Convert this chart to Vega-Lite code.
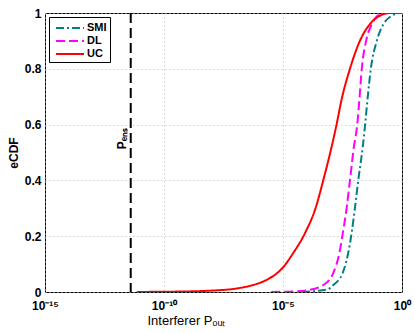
{
  "$schema": "https://vega.github.io/schema/vega-lite/v6.json",
  "width": 357,
  "height": 279,
  "autosize": "none",
  "padding": {"left": 45, "top": 13, "right": 13, "bottom": 41},
  "background": "white",
  "config": {
    "view": {"stroke": "black", "strokeWidth": 1},
    "font": "Liberation Sans",
    "axis": {
      "labelFont": "Liberation Sans",
      "labelFontWeight": "bold",
      "labelFontSize": 12,
      "labelColor": "black",
      "titleColor": "black",
      "domain": false,
      "ticks": false,
      "gridColor": "#b8b8b8",
      "gridDash": [1, 3],
      "gridWidth": 1
    },
    "legend": {
      "orient": "top-left",
      "offset": 4,
      "padding": 3,
      "fillColor": "white",
      "strokeColor": "black",
      "labelFont": "Liberation Sans",
      "labelFontWeight": "bold",
      "labelFontSize": 11,
      "labelColor": "black",
      "labelOffset": 19,
      "symbolType": "M-0.57,0H3.43",
      "symbolStrokeWidth": 2,
      "symbolSize": 196,
      "rowPadding": 0
    }
  },
  "datasets": {
    "curves": [
      {"series": "SMI", "x": 6.3e-5, "y": 0},
      {"series": "SMI", "x": 2.0e-4, "y": 0.003},
      {"series": "SMI", "x": 7.9e-4, "y": 0.01},
      {"series": "SMI", "x": 1.3e-3, "y": 0.025},
      {"series": "SMI", "x": 3.2e-3, "y": 0.068},
      {"series": "SMI", "x": 5.5e-3, "y": 0.14},
      {"series": "SMI", "x": 7.6e-3, "y": 0.21},
      {"series": "SMI", "x": 0.0107, "y": 0.306},
      {"series": "SMI", "x": 0.0145, "y": 0.40},
      {"series": "SMI", "x": 0.0224, "y": 0.52},
      {"series": "SMI", "x": 0.0282, "y": 0.60},
      {"series": "SMI", "x": 0.0355, "y": 0.69},
      {"series": "SMI", "x": 0.049, "y": 0.80},
      {"series": "SMI", "x": 0.087, "y": 0.90},
      {"series": "SMI", "x": 0.166, "y": 0.96},
      {"series": "SMI", "x": 0.37, "y": 0.99},
      {"series": "SMI", "x": 0.83, "y": 1.0},
      {"series": "SMI", "x": 1, "y": 1.0},
      {"series": "DL", "x": 3.2e-6, "y": 0},
      {"series": "DL", "x": 2.5e-5, "y": 0.002},
      {"series": "DL", "x": 1.0e-4, "y": 0.006},
      {"series": "DL", "x": 4.9e-4, "y": 0.025},
      {"series": "DL", "x": 1.29e-3, "y": 0.068},
      {"series": "DL", "x": 2.34e-3, "y": 0.14},
      {"series": "DL", "x": 3.24e-3, "y": 0.21},
      {"series": "DL", "x": 4.8e-3, "y": 0.306},
      {"series": "DL", "x": 6.5e-3, "y": 0.40},
      {"series": "DL", "x": 9.5e-3, "y": 0.52},
      {"series": "DL", "x": 0.0132, "y": 0.60},
      {"series": "DL", "x": 0.0162, "y": 0.69},
      {"series": "DL", "x": 0.0204, "y": 0.80},
      {"series": "DL", "x": 0.031, "y": 0.90},
      {"series": "DL", "x": 0.054, "y": 0.96},
      {"series": "DL", "x": 0.117, "y": 0.995},
      {"series": "DL", "x": 0.25, "y": 1.0},
      {"series": "DL", "x": 1, "y": 1.0},
      {"series": "UC", "x": 7.1e-12, "y": 0},
      {"series": "UC", "x": 1e-10, "y": 0.001},
      {"series": "UC", "x": 1e-9, "y": 0.002},
      {"series": "UC", "x": 1e-8, "y": 0.005},
      {"series": "UC", "x": 1e-7, "y": 0.012},
      {"series": "UC", "x": 4e-7, "y": 0.022},
      {"series": "UC", "x": 1.5e-6, "y": 0.038},
      {"series": "UC", "x": 4e-6, "y": 0.058},
      {"series": "UC", "x": 1e-5, "y": 0.088},
      {"series": "UC", "x": 2.7e-5, "y": 0.14},
      {"series": "UC", "x": 8.3e-5, "y": 0.21},
      {"series": "UC", "x": 2.45e-4, "y": 0.306},
      {"series": "UC", "x": 4.9e-4, "y": 0.40},
      {"series": "UC", "x": 1.1e-3, "y": 0.52},
      {"series": "UC", "x": 1.78e-3, "y": 0.60},
      {"series": "UC", "x": 2.9e-3, "y": 0.69},
      {"series": "UC", "x": 6.5e-3, "y": 0.80},
      {"series": "UC", "x": 0.017, "y": 0.90},
      {"series": "UC", "x": 0.0447, "y": 0.96},
      {"series": "UC", "x": 0.117, "y": 0.99},
      {"series": "UC", "x": 0.316, "y": 1.0},
      {"series": "UC", "x": 1, "y": 1.0}
    ],
    "marker": [
      {"x": 4.0e-12, "y": 0.55, "label": "Pₑₙₛ"}
    ]
  },
  "layer": [
    {
      "data": {"name": "curves"},
      "mark": {"type": "line", "strokeWidth": 2, "clip": true, "interpolate": "monotone"},
      "encoding": {
        "x": {
          "field": "x",
          "type": "quantitative",
          "scale": {"type": "log", "domain": [1e-15, 1], "nice": false},
          "axis": {
            "values": [1e-15, 1e-10, 1e-5, 1],
            "labelExpr": "datum.value >= 0.5 ? '10⁰' : datum.value < 1e-12 ? '10⁻¹⁵' : datum.value < 1e-7 ? '10⁻¹⁰' : '10⁻⁵'",
            "labelPadding": 8,
            "labelFlush": false,
            "title": "Interferer  Pₒᵤₜ",
            "titleFontWeight": "normal",
            "titleFontSize": 13,
            "titleAnchor": "start",
            "titleAlign": "left",
            "titleX": 102,
            "titleY": 32,
            "titleBaseline": "alphabetic"
          }
        },
        "y": {
          "field": "y",
          "type": "quantitative",
          "scale": {"domain": [0, 1], "nice": false},
          "axis": {
            "values": [0, 0.2, 0.4, 0.6, 0.8, 1],
            "format": ".1~f",
            "labelPadding": 4,
            "title": "eCDF",
            "titleFontWeight": "bold",
            "titleFontSize": 12,
            "titleX": -32,
            "titleY": 139.5,
            "titleAngle": 270,
            "titleAlign": "center",
            "titleBaseline": "middle"
          }
        },
        "color": {
          "field": "series",
          "type": "nominal",
          "scale": {"domain": ["SMI", "DL", "UC"], "range": ["#008080", "#ff00ff", "#ff0000"]},
          "legend": {"title": null}
        },
        "strokeDash": {
          "field": "series",
          "type": "nominal",
          "scale": {"domain": ["SMI", "DL", "UC"], "range": [[8, 3, 2, 3], [9, 4], [1, 0]]},
          "legend": {"title": null}
        },
        "order": {"field": "x", "type": "quantitative"}
      }
    },
    {
      "data": {"name": "marker"},
      "mark": {"type": "rule", "color": "black", "strokeWidth": 2, "strokeDash": [10, 5]},
      "encoding": {
        "x": {"field": "x", "type": "quantitative"}
      }
    },
    {
      "data": {"name": "marker"},
      "mark": {"type": "text", "angle": 270, "align": "center", "baseline": "bottom", "dy": -2, "fontSize": 12, "fontWeight": "bold", "color": "black", "font": "Liberation Sans"},
      "encoding": {
        "x": {"field": "x", "type": "quantitative"},
        "y": {"field": "y", "type": "quantitative"},
        "text": {"field": "label"}
      }
    }
  ]
}
